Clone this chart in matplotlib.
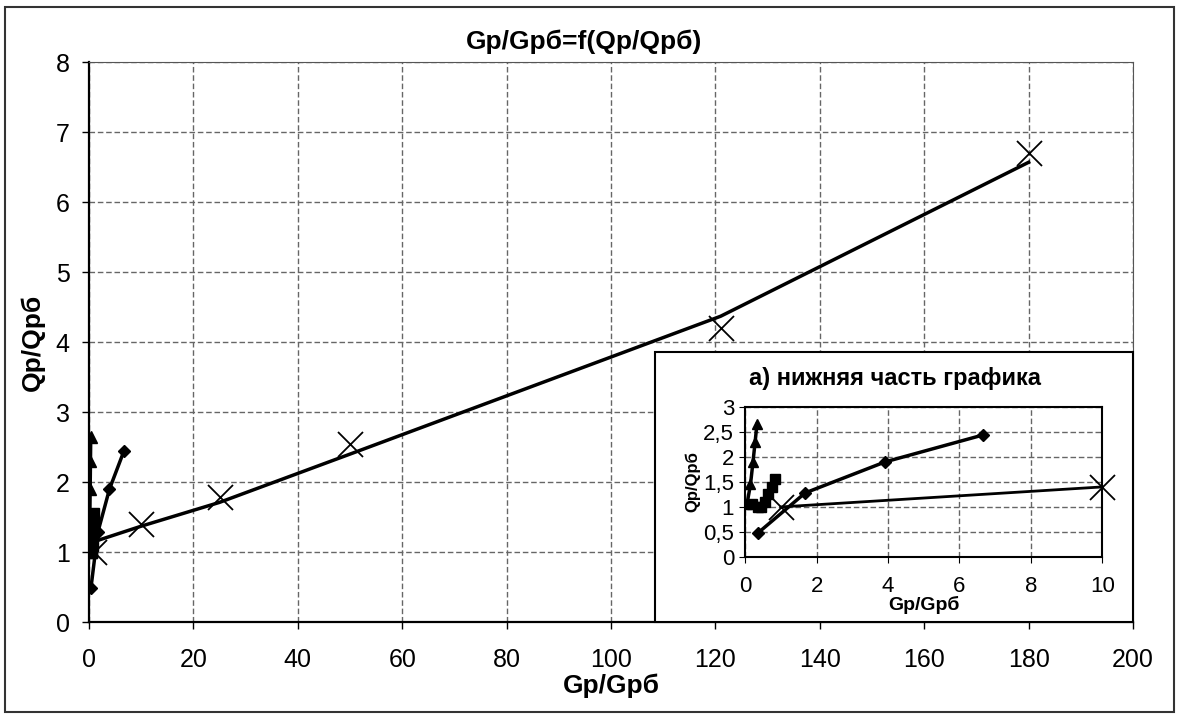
import matplotlib.pyplot as plt
from matplotlib.patches import Rectangle

plt.rcParams['font.family'] = ['Liberation Sans', 'DejaVu Sans']

# series (Gp/Gpб, Qp/Qpб)
tri_x = [0.05, 0.15, 0.22, 0.28, 0.33]
tri_y = [1.05, 1.45, 1.9, 2.3, 2.65]

sq_x = [0.2, 0.35, 0.45, 0.55, 0.65, 0.75, 0.85]
sq_y = [1.05, 1.0, 1.0, 1.1, 1.25, 1.4, 1.55]

dia_x = [0.36, 1.68, 3.92, 6.67]
dia_y = [0.48, 1.28, 1.9, 2.44]

cross_x = [1, 10, 25, 50, 121, 180]
cross_y = [1.0, 1.4, 1.78, 2.55, 4.2, 6.7]

# approximating line for the crosses (main chart)
fit_x = [1, 10, 25, 50, 121, 180]
fit_y = [1.15, 1.37, 1.71, 2.40, 4.37, 6.57]

main_xticks = list(range(0, 201, 20))
main_yticks = list(range(0, 9))
ins_xticks = [0, 2, 4, 6, 8, 10]
ins_yticks = [0, 0.5, 1, 1.5, 2, 2.5, 3]
ins_ylabels = ['0', '0,5', '1', '1,5', '2', '2,5', '3']

fig = plt.figure(figsize=(11.79, 7.15), dpi=100)
fig.patches.append(Rectangle((0.004, 0.004), 0.992, 0.986, transform=fig.transFigure,
                             fill=False, edgecolor='#333333', linewidth=1.5))

ax = fig.add_axes([0.0755, 0.130, 0.8855, 0.783])
ax.set_xlim(0, 200)
ax.set_ylim(0, 8)
ax.set_xticks(main_xticks)
ax.set_yticks(main_yticks)
ax.grid(True, linestyle=(0, (4, 2)), color='#666666', linewidth=1)
ax.tick_params(labelsize=18, length=5, width=1)
ax.tick_params(axis='x', pad=14)
ax.tick_params(axis='y', pad=9)
for s in ['top', 'right']:
    ax.spines[s].set_color('#555555')
for s in ['left', 'bottom']:
    ax.spines[s].set_linewidth(1.6)

ax.plot(tri_x, tri_y, '-^', color='black', lw=2.5, ms=8)
ax.plot(sq_x, sq_y, '-s', color='black', lw=2.5, ms=8)
ax.plot(dia_x, dia_y, '-D', color='black', lw=2.5, ms=6)
ax.plot(fit_x, fit_y, '-', color='black', lw=2.5)
ax.plot(cross_x, cross_y, 'x', color='black', ms=18, mew=1.3)

ax.set_xlabel('Gp/Gpб', fontsize=19, fontweight='bold', labelpad=1)
ax.set_ylabel('Qp/Qpб', fontsize=19, fontweight='bold', labelpad=8)
fig.text(0.495, 0.941, 'Gp/Gpб=f(Qp/Qpб)', fontsize=19, fontweight='bold', ha='center', va='center')

# inset: lower part of the chart
fig.patches.append(Rectangle((0.5556, 0.130), 0.4054, 0.3776, transform=fig.transFigure,
                             facecolor='white', edgecolor='black', linewidth=1.5, zorder=3))
ins = fig.add_axes([0.632, 0.221, 0.303, 0.210], zorder=4)
ins.set_xlim(0, 10)
ins.set_ylim(0, 3)
ins.set_xticks(ins_xticks)
ins.set_yticks(ins_yticks)
ins.set_yticklabels(ins_ylabels)
ins.grid(True, linestyle=(0, (4, 2)), color='#666666', linewidth=1)
ins.tick_params(labelsize=16, length=4)
ins.tick_params(axis='x', pad=10)
ins.tick_params(axis='y', pad=4)
for s in ins.spines.values():
    s.set_linewidth(1.5)

ins.plot(tri_x, tri_y, '-^', color='black', lw=2.5, ms=7)
ins.plot(sq_x, sq_y, '-s', color='black', lw=2.5, ms=7)
ins.plot(dia_x, dia_y, '-D', color='black', lw=2.5, ms=6)
ins.plot(cross_x[:2], cross_y[:2], '-x', color='black', lw=2, ms=18, mew=1.3, clip_on=False)

ins.set_xlabel('Gp/Gpб', fontsize=14, fontweight='bold', labelpad=-1)
ins.set_ylabel('Qp/Qpб', fontsize=12, fontweight='bold', labelpad=2)
fig.text(0.759, 0.471, 'а) нижняя часть графика', fontsize=17, fontweight='bold',
         ha='center', va='center', zorder=5)

fig.savefig('out.png', dpi=100)
